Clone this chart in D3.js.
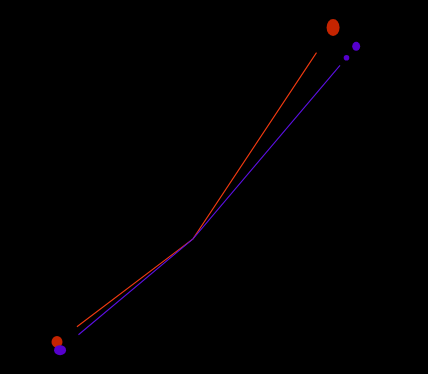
<!DOCTYPE html>
<html>
<head>
	<meta charset="utf-8">
	<title>Two paths</title>
	<script src="https://cdn.jsdelivr.net/npm/d3@7"></script>
	<style>
		html, body { margin: 0; padding: 0; background: #000; }
	</style>
</head>
<body>
	<script>
		var width = 428;
		var height = 374;

		// data values
		var redX = [0.5, 4.5, 8.62];
		var redY = [0.67, 3.53, 9.4];
		var purpleX = [0.59, 4.5, 9.3];
		var purpleY = [0.44, 3.53, 8.88];

		var x = d3.scaleLinear().domain([0, 10]).range([40, 380]);
		var y = d3.scaleLinear().domain([0, 10]).range([366, 6]);

		var series = [
			{ name: "red", xs: redX, ys: redY, line: "#f03a10", dot: "#c42400", gap0: 25, gap1: 30 },
			{ name: "purple", xs: purpleX, ys: purpleY, line: "#5a10e0", dot: "#5500cc", gap0: 24, gap1: 25 }
		];

		var svg = d3.select("body").append("svg")
			.attr("width", width)
			.attr("height", height)
			.style("display", "block");

		svg.append("rect")
			.attr("width", width)
			.attr("height", height)
			.attr("fill", "#000");

		var line = d3.line()
			.x(function(d){ return x(d[0]); })
			.y(function(d){ return y(d[1]); });

		series.forEach(function(s){
			var pts = d3.zip(s.xs, s.ys);
			var path = svg.append("path")
				.datum(pts)
				.attr("d", line)
				.attr("fill", "none")
				.attr("stroke", s.line)
				.attr("stroke-width", 1.1);
			var L = path.node().getTotalLength();
			// leave a gap near both ends, like the original
			path.attr("stroke-dasharray", "0 " + s.gap0 + " " + (L - s.gap0 - s.gap1) + " " + s.gap1);

			// small arrow-ish tick just before the purple end point
			if (s.name == "purple") {
				var p = path.node().getPointAtLength(L - 15);
				svg.append("circle")
					.attr("cx", p.x)
					.attr("cy", p.y)
					.attr("r", 2.8)
					.attr("fill", s.dot);
			}

			// end markers (first and last point)
			svg.selectAll("ellipse." + s.name)
				.data([pts[0], pts[pts.length - 1]])
				.enter()
				.append("ellipse")
				.attr("class", s.name)
				.attr("cx", function(d){ return x(d[0]); })
				.attr("cy", function(d){ return y(d[1]); })
				.attr("rx", function(d, i){ return s.name == "red" ? (i ? 6.5 : 5.5) : (i ? 4 : 6); })
				.attr("ry", function(d, i){ return s.name == "red" ? (i ? 8.5 : 6) : (i ? 4.5 : 5); })
				.attr("fill", s.dot);
		});
	</script>
</body>
</html>
